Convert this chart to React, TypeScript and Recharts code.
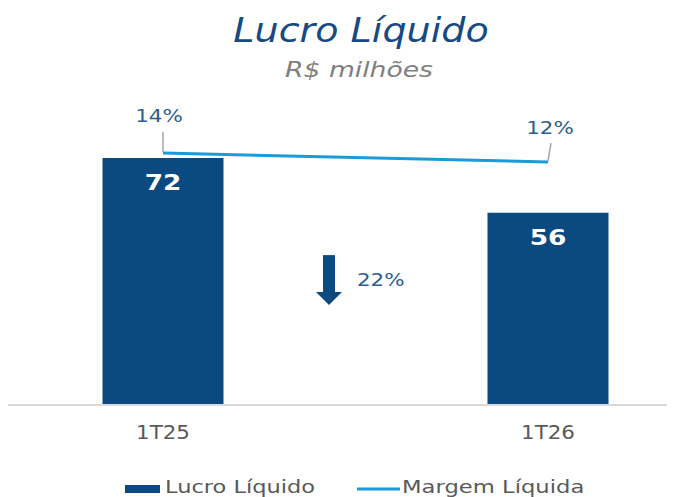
import React from 'react';
import { ComposedChart, Bar, Line, XAxis, YAxis, LabelList, Legend, ReferenceDot } from 'recharts';

const categories = ['1T25', '1T26'];
const lucroLiquido = [72, 56];
const margemLiquida = [14, 12];
const variacaoLabel = '22%';
const seriesNames = ['Lucro Líquido', 'Margem Líquida'];

const data = categories.map((c, i) => ({ idx: i, label: c, lucro: lucroLiquido[i], margem: margemLiquida[i] }));

const BAR = '#0b4a80';
const LINE = '#1a9bd7';
const LABEL = '#2e5f8f';
const GRAY = '#595959';
const FONT = '"DejaVu Sans", Verdana, sans-serif';

const SText = (p: any) => {
  const { x, y, sx = 1, anchor = 'middle', baseline, children, ...rest } = p;
  return (
    <text transform={`translate(${x},${y}) scale(${sx},1)`} x={0} y={0} textAnchor={anchor}
      dominantBaseline={baseline} fontFamily={FONT} {...rest}>{children}</text>
  );
};

const BarLabel = (props: any) => {
  const { x, y, width, value } = props;
  return (
    <SText x={x + width / 2} y={y + 24} sx={1.2} baseline="central" fill="#ffffff" fontSize={22} fontWeight="bold">{value}</SText>
  );
};

const LineLabel = (props: any) => {
  const { x, y, value, index } = props;
  const first = index === 0;
  const tx = first ? x - 4 : x + 2;
  const ty = first ? y - 36.5 : y - 33.5;
  const l1 = first ? { x1: x, y1: y - 21, x2: x, y2: y - 1 } : { x1: x + 3, y1: y - 19, x2: x, y2: y - 1 };
  return (
    <g>
      <line {...l1} stroke="#a6a6a6" strokeWidth={1.5} />
      <SText x={tx} y={ty} sx={1.19} baseline="central" fill={LABEL} fontSize={18}>{`${value}%`}</SText>
    </g>
  );
};

const ArrowShape = (props: any) => {
  const { cx, cy } = props;
  const ax = cx - 26.5;
  return (
    <g>
      <rect x={ax - 6} y={cy - 25} width={12} height={38} fill={BAR} />
      <polygon points={`${ax - 13},${cy + 12} ${ax + 13},${cy + 12} ${ax},${cy + 25}`} fill={BAR} />
      <SText x={cx + 1.5} y={cy} sx={1.19} anchor="start" baseline="central" fill={LABEL} fontSize={18}>{variacaoLabel}</SText>
    </g>
  );
};

const Tick = (props: any) => {
  const { x, y, payload } = props;
  return (
    <SText x={x} y={y + 27.5} sx={1.07} baseline="central" fill={GRAY} fontSize={20}>{categories[payload.value]}</SText>
  );
};

const LegendContent = () => (
  <svg width={667} height={32} style={{ display: 'block' }}>
    <rect x={117} y={20} width={35} height={8} fill={BAR} />
    <SText x={157} y={28} sx={1.25} anchor="start" fill={GRAY} fontSize={18}>{seriesNames[0]}</SText>
    <line x1={349} y1={24} x2={392} y2={24} stroke={LINE} strokeWidth={3} />
    <SText x={394} y={28} sx={1.26} anchor="start" fill={GRAY} fontSize={18}>{seriesNames[1]}</SText>
  </svg>
);

export default function App() {
  return (
    <div style={{ position: 'relative', width: 667, height: 489 }}>
      <ComposedChart width={667} height={489} data={data} margin={{ top: 92, right: 0, left: 0, bottom: 0 }}>
        <XAxis dataKey="idx" type="number" domain={[-0.4026, 1.3299]} ticks={[0, 1]} allowDataOverflow
          height={60} tickLine={false} tickSize={0} tickMargin={0} tick={<Tick />}
          axisLine={{ stroke: '#d9d9d9', strokeWidth: 2 }} />
        <YAxis yAxisId="left" hide domain={[0, 88.9]} allowDataOverflow />
        <YAxis yAxisId="right" hide orientation="right" domain={[-42, 25.78]} allowDataOverflow />
        <Bar yAxisId="left" dataKey="lucro" name={seriesNames[0]} fill={BAR} barSize={121} isAnimationActive={false}>
          <LabelList dataKey="lucro" content={<BarLabel />} />
        </Bar>
        <Line yAxisId="right" dataKey="margem" name={seriesNames[1]} stroke={LINE} strokeWidth={3} dot={false} isAnimationActive={false}>
          <LabelList dataKey="margem" content={<LineLabel />} />
        </Line>
        <ReferenceDot yAxisId="left" x={0.5} y={36.4} r={0} shape={<ArrowShape />} />
        <Legend verticalAlign="bottom" height={32} content={<LegendContent />} />
      </ComposedChart>
      <svg width={667} height={90} style={{ position: 'absolute', left: 0, top: 0, pointerEvents: 'none' }}>
        <SText x={353} y={34} sx={1.12} fill="#174a82" fontSize={34} fontStyle="italic">Lucro Líquido</SText>
        <SText x={351} y={69} sx={1.21} fill="#808080" fontSize={22} fontStyle="italic">R$ milhões</SText>
      </svg>
    </div>
  );
}
